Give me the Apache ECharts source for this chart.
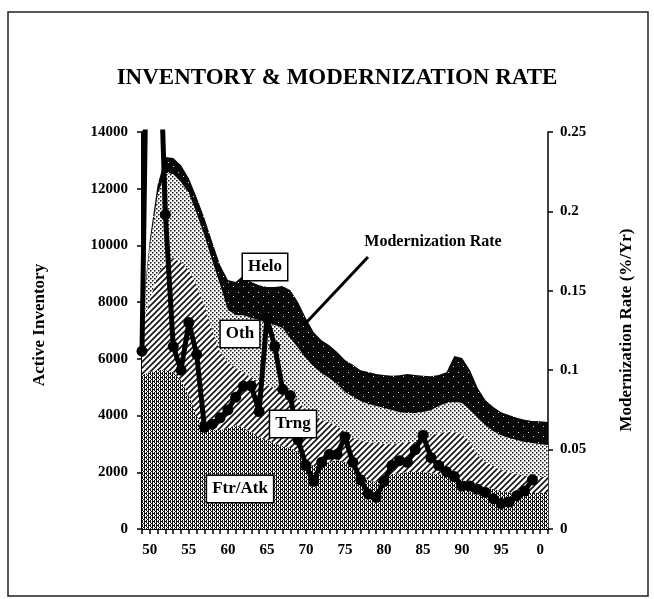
<!DOCTYPE html>
<html>
<head>
<meta charset="utf-8">
<script src="https://cdn.jsdelivr.net/npm/echarts@6/dist/echarts.min.js"></script>
<style>
  html, body { margin: 0; padding: 0; background: #fff; }
  #chart { width: 654px; height: 599px; }
</style>
</head>
<body>
<div id="chart"></div>
<script>
// years on the x axis
var years = [1949, 1950, 1951, 1952, 1953, 1954, 1955, 1956, 1957, 1958,
  1959, 1960, 1961, 1962, 1963, 1964, 1965, 1966, 1967, 1968,
  1969, 1970, 1971, 1972, 1973, 1974, 1975, 1976, 1977, 1978,
  1979, 1980, 1981, 1982, 1983, 1984, 1985, 1986, 1987, 1988,
  1989, 1990, 1991, 1992, 1993, 1994, 1995, 1996, 1997, 1998,
  1999, 2000, 2001];

// active inventory by mission (stacked)
var ftrAtk = [5430, 5540, 5610, 5610, 5540, 5250, 4720, 4020, 3560, 3490,
  3490, 3560, 3670, 3560, 3420, 3240, 3140, 3030, 2930, 2860,
  2720, 2430, 2220, 2220, 2360, 2430, 2360, 2080, 1900, 1730,
  1660, 1800, 1940, 1970, 2010, 2010, 2010, 1970, 1940, 1870,
  1800, 1730, 1660, 1550, 1480, 1410, 1340, 1300, 1270, 1270,
  1270, 1270, 1270];
var trng = [1590, 2540, 3350, 3810, 4020, 4160, 4410, 4580, 4340, 3530,
  2750, 2330, 2010, 1970, 1940, 1940, 1940, 1940, 1970, 1970,
  1830, 1760, 1730, 1620, 1410, 1200, 1060, 1130, 1230, 1340,
  1380, 1200, 1060, 1060, 1060, 1060, 1130, 1300, 1450, 1550,
  1620, 1620, 1410, 1060, 880, 810, 740, 710, 670, 600,
  560, 560, 560];
var oth = [280, 1900, 2830, 3150, 2950, 2820, 2710, 2530, 2450, 2430,
  2370, 1830, 1870, 2010, 2080, 2190, 2220, 2220, 2190, 1900,
  1830, 1830, 1760, 1660, 1550, 1480, 1410, 1450, 1380, 1340,
  1300, 1270, 1200, 1090, 1020, 1020, 990, 920, 950, 1020,
  1060, 1090, 1130, 1300, 1300, 1230, 1230, 1200, 1200, 1200,
  1200, 1160, 1130];
var helo = [140, 220, 350, 550, 570, 600, 530, 570, 610, 670,
  700, 1060, 1160, 1410, 1270, 1230, 1230, 1340, 1480, 1690,
  1620, 1410, 1230, 1160, 1160, 1130, 1130, 1130, 1090, 1130,
  1130, 1160, 1200, 1300, 1380, 1340, 1270, 1200, 1090, 1090,
  1620, 1590, 1410, 1060, 880, 850, 810, 810, 780, 780,
  780, 810, 810];

// modernization rate (right axis)
var modRate = [0.112, 0.45, 0.35, 0.198, 0.115, 0.100, 0.130, 0.110, 0.064, 0.066,
  0.070, 0.075, 0.083, 0.090, 0.090, 0.074, 0.133, 0.115, 0.088, 0.084,
  0.056, 0.040, 0.030, 0.042, 0.047, 0.047, 0.058, 0.042, 0.031, 0.022,
  0.020, 0.030, 0.040, 0.043, 0.042, 0.050, 0.059, 0.045, 0.040, 0.036,
  0.033, 0.027, 0.027, 0.025, 0.023, 0.019, 0.016, 0.017, 0.021, 0.024,
  0.031, null, null];

var serif = "'Liberation Serif', 'DejaVu Serif', serif";

// fill patterns imitating the printed shading
function makePattern(size, draw) {
  var c = document.createElement("canvas");
  c.width = size;
  c.height = size;
  var ctx = c.getContext("2d");
  draw(ctx, size);
  return { image: c, repeat: "repeat" };
}

var ftrPattern = makePattern(4, function(ctx) {
  ctx.fillStyle = "#fff";
  ctx.fillRect(0, 0, 4, 4);
  ctx.fillStyle = "#111";
  ctx.fillRect(0, 0, 1, 4);
  ctx.fillRect(2, 0, 1, 3);
  ctx.fillRect(1, 1, 1, 1);
  ctx.fillRect(3, 3, 1, 1);
});
var trngPattern = makePattern(6, function(ctx) {
  ctx.fillStyle = "#fff";
  ctx.fillRect(0, 0, 6, 6);
  ctx.strokeStyle = "#111";
  ctx.lineWidth = 1.6;
  ctx.beginPath();
  ctx.moveTo(-1, 7);
  ctx.lineTo(7, -1);
  ctx.moveTo(-4, 4);
  ctx.lineTo(4, -4);
  ctx.moveTo(2, 10);
  ctx.lineTo(10, 2);
  ctx.stroke();
});
var othPattern = makePattern(4, function(ctx) {
  ctx.fillStyle = "#fff";
  ctx.fillRect(0, 0, 4, 4);
  ctx.fillStyle = "#111";
  ctx.fillRect(0, 0, 1.5, 1.5);
  ctx.fillRect(2, 2, 1.5, 1.5);
});
var heloPattern = makePattern(10, function(ctx) {
  ctx.fillStyle = "#080808";
  ctx.fillRect(0, 0, 10, 10);
  ctx.fillStyle = "#ddd";
  ctx.fillRect(3, 6, 1, 1);
  ctx.fillRect(8, 2, 1, 1);
});

function areaSeries(name, data, pattern, z) {
  return {
    name: name,
    type: "line",
    stack: "inventory",
    data: data,
    symbol: "none",
    z: z,
    lineStyle: { width: 0 },
    areaStyle: { color: pattern, opacity: 1 }
  };
}

function boxLabel(text, x, y) {
  return {
    type: "text",
    x: x,
    y: y,
    z: 100,
    style: {
      text: text,
      font: "bold 17px " + serif,
      fill: "#000",
      align: "center",
      verticalAlign: "middle",
      backgroundColor: "#fff",
      borderColor: "#000",
      borderWidth: 1.5,
      padding: [5, 5, 4, 5]
    }
  };
}

var chart = echarts.init(document.getElementById("chart"));

chart.setOption({
  animation: false,
  backgroundColor: "#fff",
  grid: { left: 142, right: 106, top: 132, bottom: 70 },
  xAxis: {
    type: "category",
    data: years,
    boundaryGap: false,
    axisLine: { lineStyle: { color: "#000", width: 2 } },
    axisTick: {
      interval: 0,
      length: 5,
      lineStyle: { color: "#000", width: 1.5 }
    },
    axisLabel: {
      interval: function(index, value) {
        return Number(value) % 5 === 0;
      },
      formatter: function(value) {
        return String(Number(value) % 100);
      },
      color: "#000",
      fontFamily: serif,
      fontWeight: "bold",
      fontSize: 15,
      margin: 14
    },
    splitLine: { show: false }
  },
  yAxis: [
    {
      type: "value",
      min: 0,
      max: 14000,
      interval: 2000,
      axisLine: { show: true, lineStyle: { color: "#000", width: 2 } },
      axisTick: { show: true, length: 5, lineStyle: { color: "#000", width: 1.5 } },
      axisLabel: {
        formatter: function(v) { return String(v); },
        color: "#000",
        fontFamily: serif,
        fontWeight: "bold",
        fontSize: 15,
        margin: 14
      },
      splitLine: { show: false }
    },
    {
      type: "value",
      position: "right",
      min: 0,
      max: 0.25,
      interval: 0.05,
      axisLine: { show: true, lineStyle: { color: "#000", width: 1.5 } },
      axisTick: { show: true, length: 5, lineStyle: { color: "#000", width: 1.5 } },
      axisLabel: {
        formatter: function(v) { return String(Math.round(v * 100) / 100); },
        color: "#000",
        fontFamily: serif,
        fontWeight: "bold",
        fontSize: 15,
        margin: 12
      },
      splitLine: { show: false }
    }
  ],
  series: [
    areaSeries("Ftr/Atk", ftrAtk, ftrPattern, 2),
    areaSeries("Trng", trng, trngPattern, 2),
    areaSeries("Oth", oth, othPattern, 2),
    areaSeries("Helo", helo, heloPattern, 2),
    {
      name: "Modernization Rate",
      type: "line",
      yAxisIndex: 1,
      data: modRate,
      z: 5,
      clip: true,
      showAllSymbol: true,
      symbol: "circle",
      symbolSize: 11,
      lineStyle: { color: "#000", width: 5 },
      itemStyle: { color: "#000" }
    }
  ],
  graphic: [
    {
      type: "rect",
      shape: { x: 8, y: 12, width: 640, height: 584 },
      style: { fill: "none", stroke: "#222", lineWidth: 1.5 },
      silent: true
    },
    {
      type: "text",
      x: 337,
      y: 78,
      style: {
        text: "INVENTORY & MODERNIZATION RATE",
        font: "bold 23px " + serif,
        fill: "#000",
        align: "center",
        verticalAlign: "middle"
      }
    },
    {
      type: "text",
      x: 40,
      y: 325,
      rotation: Math.PI / 2,
      style: {
        text: "Active Inventory",
        font: "bold 17px " + serif,
        fill: "#000",
        align: "center",
        verticalAlign: "middle"
      }
    },
    {
      type: "text",
      x: 627,
      y: 330,
      rotation: Math.PI / 2,
      style: {
        text: "Modernization Rate (%/Yr)",
        font: "bold 17px " + serif,
        fill: "#000",
        align: "center",
        verticalAlign: "middle"
      }
    },
    {
      type: "text",
      x: 433,
      y: 242,
      z: 100,
      style: {
        text: "Modernization Rate",
        font: "bold 16px " + serif,
        fill: "#000",
        align: "center",
        verticalAlign: "middle"
      }
    },
    {
      type: "line",
      z: 100,
      shape: { x1: 368, y1: 257, x2: 304, y2: 325 },
      style: { stroke: "#000", lineWidth: 3 }
    },
    boxLabel("Helo", 265, 267),
    boxLabel("Oth", 240, 334),
    boxLabel("Trng", 293, 424),
    boxLabel("Ftr/Atk", 240, 489)
  ]
});
</script>
</body>
</html>
